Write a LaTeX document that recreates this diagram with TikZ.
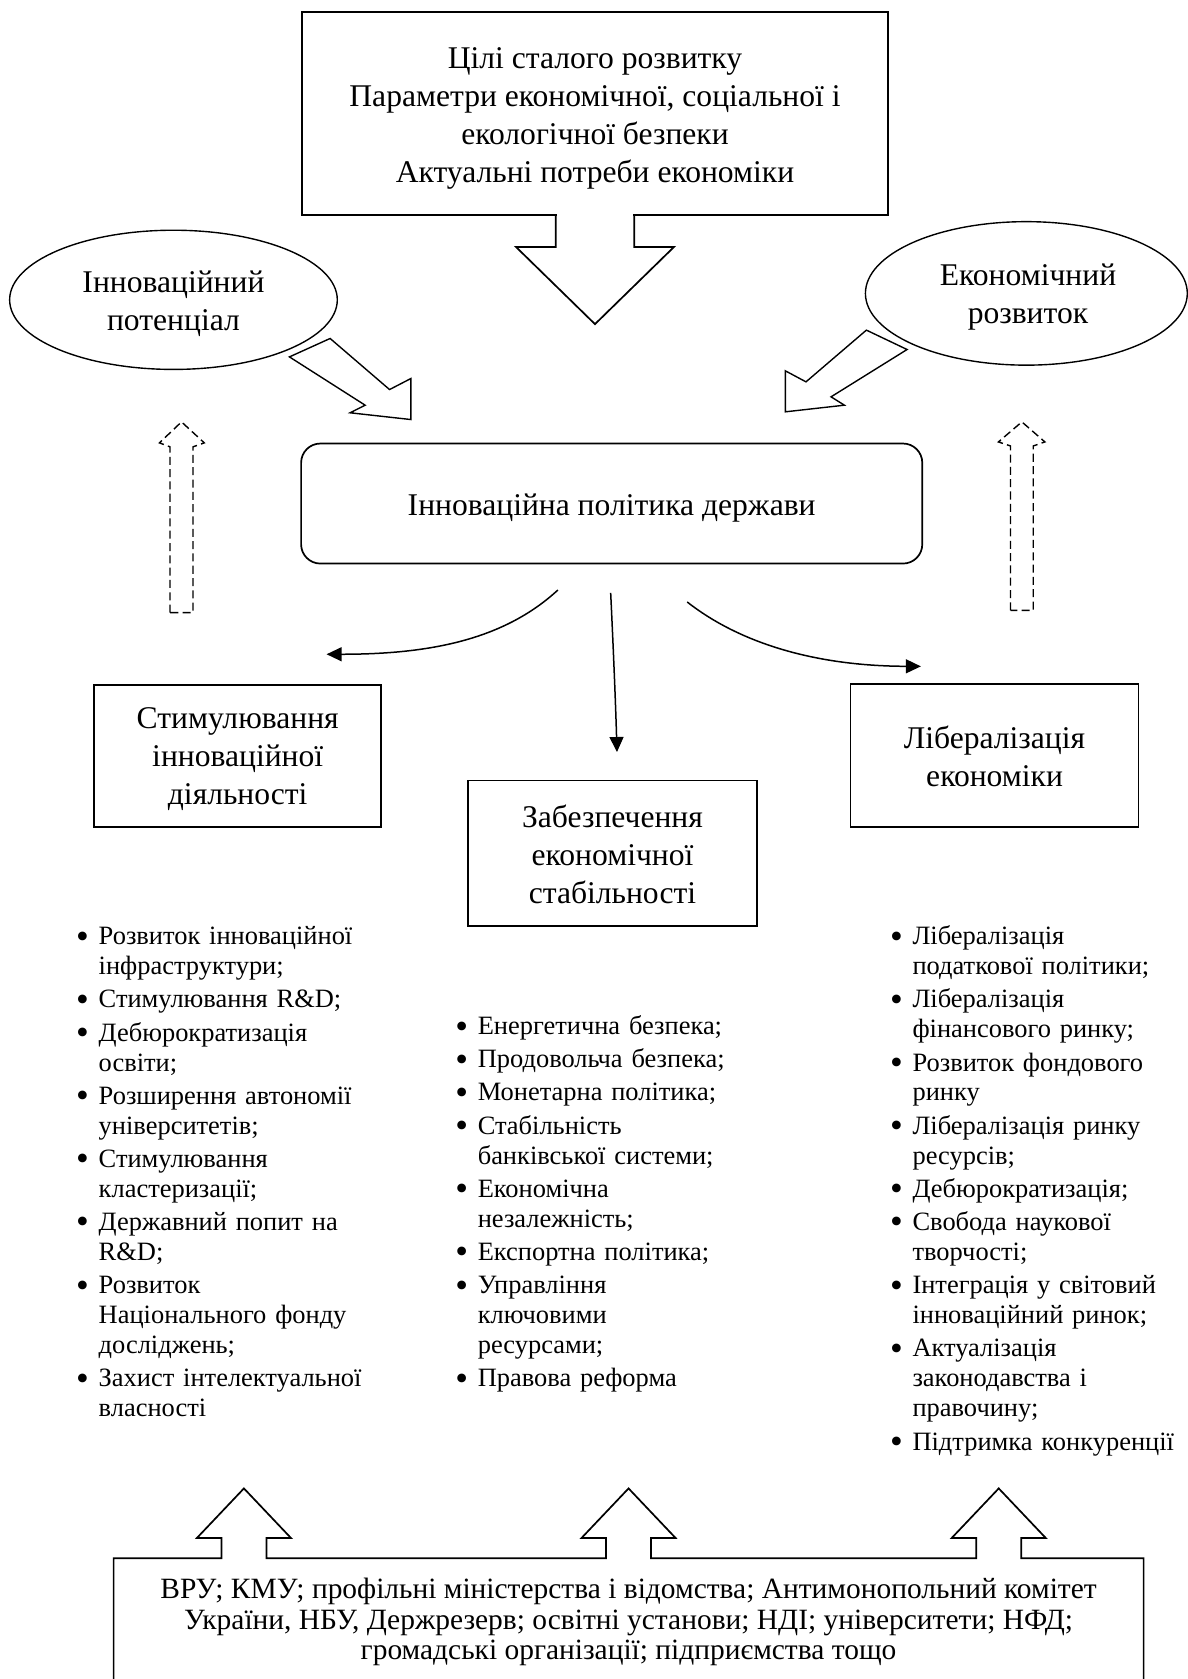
\documentclass[tikz,border=0pt]{standalone}
\usepackage{fontspec}
\setmainfont{Liberation Serif}
\usetikzlibrary{shapes.geometric,arrows.meta}
\newcommand\bulmark{\raisebox{-3.2pt}{\fontsize{34}{28}\selectfont\textbullet}}
\newcommand\bul[1]{\par\noindent\hangindent=21pt\hangafter=1\makebox[21pt][l]{\bulmark}#1\par}
\begin{document}
\begin{tikzpicture}[x=1pt,y=-1pt,
  big/.style={font=\fontsize{29.5}{35.5}\selectfont},
  box/.style={draw, line width=1.6pt, inner sep=0pt},
  txt/.style={inner sep=0pt, align=center, big},
  ell/.style={ellipse, draw, line width=1.3pt, inner sep=0pt, align=center, big},
  blk/.style={draw, line width=1.3pt, line join=miter},
  dsh/.style={draw, line width=1.3pt, dash pattern=on 7.5pt off 4pt},
  flow/.style={line width=1.4pt, -{Triangle[length=14pt,width=13pt]}},
  lst/.style={anchor=north west, inner sep=0pt, text width=#1, align=left, font=\fontsize{24.7}{28}\selectfont}]
\useasboundingbox (0,0) rectangle (1109,1568);

% top box with block arrow
\node[box, minimum width=547.5pt, minimum height=190pt] (goal) at (555.65,105.9) {};
\node[txt] (goaltxt) at (555.65,110.5)
  {Цілі сталого розвитку\\Параметри економічної, соціальної і\\екологічної безпеки\\Актуальні потреби економіки};
\fill[white] (520,199) rectangle (591.3,203);
\draw[line width=1.6pt, line join=miter] (519.05,200.9) -- (519.05,230.6) -- (481.85,230.6) -- (555.65,302.7) -- (629.45,230.6) -- (592.25,230.6) -- (592.25,200.9);

% ellipses
\node[ell, minimum width=306pt, minimum height=130pt] (pot) at (162,280) {};
\node[txt] (pottxt) at (162,284) {Інноваційний\\потенціал};
\node[ell, minimum width=300.6pt, minimum height=134pt] (eco) at (958.5,274) {};
\node[txt] (ecotxt) at (960,277.5) {Економічний\\розвиток};

% tilted block arrows
\draw[blk] (308.3,316.1) -- (363.8,363.8) -- (383.7,353.5) -- (383.7,391.8) -- (327,385.5) -- (341,378.4) -- (270.3,333.3) -- cycle;
\draw[blk] (809.1,308.3) -- (847.1,326.4) -- (776.1,370.6) -- (788.6,378.4) -- (733.4,384.6) -- (733.4,346.3) -- (752.7,356.6) -- cycle;

% policy box
\node[box, rounded corners=18pt, minimum width=580.1pt, minimum height=112.1pt] (pol) at (571.25,470.25) {};
\node[txt] (poltxt) at (571.25,474.5) {Інноваційна політика держави};

% dashed up arrows
\draw[dsh] (158.8,572.1) -- (158.8,417.3) -- (148.9,413.6) -- (169.5,394) -- (190.8,413.6) -- (180.2,417.3) -- (180.2,572.1) -- cycle;
\draw[dsh] (943.7,570) -- (943.7,416.5) -- (932.4,412.7) -- (954.3,394) -- (975.8,412.7) -- (964.9,416.5) -- (964.9,570) -- cycle;

% second level boxes
\node[box, minimum width=268pt, minimum height=132pt] (stim) at (222,706) {};
\node[txt] (stimtxt) at (222,709) {Стимулювання\\інноваційної\\діяльності};
\node[box, minimum width=270pt, minimum height=136.2pt] (stab) at (572,796.9) {};
\node[txt] (stabtxt) at (572,797.5) {Забезпечення\\економічної\\стабільності};
\node[box, minimum width=269pt, minimum height=133.9pt] (lib) at (928.8,705.45) {};
\node[txt] (libtxt) at (928.8,706.5) {Лібералізація\\економіки};

% curved connectors
\coordinate (c1s) at (521,551);
\coordinate (c1e) at (305,611);
\coordinate (c2s) at (570.3,553.7);
\coordinate (c2e) at (576.2,702.3);
\coordinate (c3s) at (641.8,562.2);
\coordinate (c3e) at (860,622.3);
\draw[flow] (c1s) .. controls (470,598) and (400,611) .. (c1e);
\draw[flow] (c2s) .. controls (573,610) and (575,660) .. (c2e);
\draw[flow] (c3s) .. controls (690,600) and (760,622) .. (c3e);

% lists
\node[lst=285pt] (l1) at (71,851) {\setlength\parskip{3pt}%
\bul{Розвиток інноваційної\newline інфраструктури;}
\bul{Стимулювання R\&D;}
\bul{Дебюрократизація\newline освіти;}
\bul{Розширення автономії\newline університетів;}
\bul{Стимулювання\newline кластеризації;}
\bul{Державний попит на\newline R\&D;}
\bul{Розвиток\newline Національного фонду\newline досліджень;}
\bul{Захист інтелектуальної\newline власності}};

\node[lst=280pt] (l2) at (425,935) {\setlength\parskip{3pt}%
\bul{Енергетична безпека;}
\bul{Продовольча безпека;}
\bul{Монетарна політика;}
\bul{Стабільність\newline банківської системи;}
\bul{Економічна\newline незалежність;}
\bul{Експортна політика;}
\bul{Управління\newline ключовими\newline ресурсами;}
\bul{Правова реформа}};

\node[lst=290pt] (l3) at (831,851) {\setlength\parskip{3pt}%
\bul{Лібералізація\newline податкової політики;}
\bul{Лібералізація\newline фінансового ринку;}
\bul{Розвиток фондового\newline ринку}
\bul{Лібералізація ринку\newline ресурсів;}
\bul{Дебюрократизація;}
\bul{Свобода наукової\newline творчості;}
\bul{Інтеграція у світовий\newline інноваційний ринок;}
\bul{Актуалізація\newline законодавства і\newline правочину;}
\bul{Підтримка конкуренції}};

% bottom box with three block arrows
\draw[line width=1.6pt, line join=miter] (106.1,1580) -- (106.1,1455.3)
  -- (206.8,1455.3) -- (206.8,1436.4) -- (183.8,1436.4) -- (227.8,1390) -- (271.8,1436.4) -- (248.8,1436.4) -- (248.8,1455.3)
  -- (566,1455.3) -- (566,1436.4) -- (543,1436.4) -- (587,1390) -- (631,1436.4) -- (608,1436.4) -- (608,1455.3)
  -- (911.7,1455.3) -- (911.7,1436.4) -- (888.7,1436.4) -- (932.7,1390) -- (976.7,1436.4) -- (953.7,1436.4) -- (953.7,1455.3)
  -- (1068,1455.3) -- (1068,1580);
\node[font=\fontsize{27.5}{28.5}\selectfont, align=center, inner sep=0pt] (org) at (587,1515)
  {ВРУ; КМУ; профільні міністерства і відомства; Антимонопольний комітет\\України, НБУ, Держрезерв; освітні установи; НДІ; університети; НФД;\\громадські організації; підприємства тощо};
\end{tikzpicture}
\end{document}
